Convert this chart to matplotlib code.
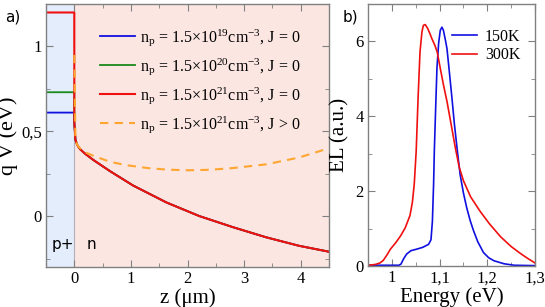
import matplotlib
matplotlib.use("Agg")
import matplotlib.pyplot as plt
from matplotlib.ticker import MultipleLocator, FuncFormatter

plt.rcParams['font.family'] = ['Liberation Serif', 'DejaVu Serif']
plt.rcParams['mathtext.fontset'] = 'custom'
plt.rcParams['mathtext.rm'] = 'Liberation Serif'
plt.rcParams['mathtext.it'] = 'Liberation Serif:italic'
plt.rcParams['mathtext.default'] = 'regular'

# ---- Panel a) data ----
z_p = [-0.5, 0.0]
V_p_19 = [0.61, 0.61]
V_p_20 = [0.73, 0.73]
V_p_21 = [1.2, 1.2]
z_n = [0.0, 0.02, 0.05, 0.1, 0.2, 0.34, 0.63, 1.04, 1.63, 2.21, 2.8, 3.39, 3.97, 4.5]
V_n_J0 = [0.55, 0.45, 0.42, 0.395, 0.365, 0.33, 0.265, 0.18, 0.08, 0.0, -0.065, -0.125, -0.175, -0.21]
z_J = [0.0, 0.02, 0.05, 0.1, 0.2, 0.34, 0.63, 0.92, 1.3, 1.63, 2.0, 2.4, 2.8, 3.39, 3.97, 4.5]
V_J = [0.95, 0.45, 0.42, 0.40, 0.375, 0.355, 0.32, 0.30, 0.283, 0.274, 0.27, 0.273, 0.283, 0.305, 0.345, 0.40]

labels_a = [r'n$_\mathrm{p}$ = 1.5×10$^{19}$cm$^{-3}$, J = 0',
            r'n$_\mathrm{p}$ = 1.5×10$^{20}$cm$^{-3}$, J = 0',
            r'n$_\mathrm{p}$ = 1.5×10$^{21}$cm$^{-3}$, J = 0',
            r'n$_\mathrm{p}$ = 1.5×10$^{21}$cm$^{-3}$, J > 0']

# ---- Panel b) data ----
E_150 = [0.95, 1.0, 1.015, 1.019, 1.025, 1.031, 1.04, 1.052, 1.065, 1.077, 1.082, 1.085, 1.0875,
         1.089, 1.092, 1.0945, 1.098, 1.1015, 1.105, 1.108, 1.112, 1.1155, 1.12, 1.126, 1.131, 1.1365,
         1.143, 1.15, 1.157, 1.164, 1.171, 1.18, 1.192, 1.203, 1.214, 1.235, 1.256, 1.3]
EL_150 = [0.02, 0.02, 0.02, 0.05, 0.2, 0.32, 0.41, 0.45, 0.5, 0.58, 0.7, 1.2, 2.2,
          3.07, 4.3, 5.28, 5.95, 6.3, 6.38, 6.3, 6.05, 5.81, 5.25, 4.48, 3.8, 3.16,
          2.45, 1.95, 1.55, 1.22, 0.95, 0.65, 0.36, 0.22, 0.14, 0.06, 0.02, 0.01]
E_300 = [0.95, 0.965, 0.975, 0.982, 0.99, 0.997, 1.008, 1.018, 1.028, 1.038, 1.043, 1.047, 1.051,
         1.055, 1.059, 1.063, 1.066, 1.07, 1.075, 1.08, 1.084, 1.09, 1.095, 1.1015, 1.108, 1.1155,
         1.124, 1.133, 1.141, 1.15, 1.165, 1.185, 1.205, 1.228, 1.25, 1.27, 1.285, 1.3]
EL_300 = [0.02, 0.04, 0.08, 0.15, 0.3, 0.45, 0.62, 0.8, 1.02, 1.35, 1.7, 2.2, 3.07,
          4.5, 5.72, 6.25, 6.43, 6.45, 6.35, 6.2, 6.07, 5.9, 5.72, 5.28, 4.85, 4.4,
          3.8, 3.16, 2.65, 2.28, 1.85, 1.46, 1.12, 0.78, 0.52, 0.33, 0.2, 0.08]
labels_b = ['150K', '300K']

fig = plt.figure(figsize=(5.45, 3.07), dpi=100)
axa = fig.add_axes([46/545, 1-267/307, (329-46)/545, 263/307])
axb = fig.add_axes([368/545, 1-266/307, (535-368)/545, 262/307])

spine_col = '#808080'

# panel a
axa.axvspan(-0.5, 0.0, color='#e3edfb', zorder=0)
axa.axvspan(0.0, 4.5, color='#fbe6e2', zorder=0)
axa.axvline(0.0, color='#b0b0c0', lw=0.8, zorder=0.5)

axa.plot(z_p + z_n, V_p_19 + V_n_J0, color='#1010e0', lw=1.3, label=labels_a[0])
axa.plot(z_p + z_n, V_p_20 + V_n_J0, color='#1a8a1a', lw=1.3, label=labels_a[1])
axa.plot(z_p + z_n, V_p_21 + V_n_J0, color='#f01010', lw=1.5, label=labels_a[2])
axa.plot(z_J, V_J, color='#ffa530', lw=1.5, ls=(0, (4, 3)), label=labels_a[3])

axa.set_xlim(-0.5, 4.5)
axa.set_ylim(-0.3, 1.25)
axa.xaxis.set_major_locator(MultipleLocator(1))
axa.xaxis.set_minor_locator(MultipleLocator(0.5))
axa.yaxis.set_major_locator(MultipleLocator(0.5))
axa.yaxis.set_minor_locator(MultipleLocator(0.25))

def comma(x, pos):
    return ('%g' % round(x, 2)).replace('.', ',')
axa.yaxis.set_major_formatter(FuncFormatter(comma))
axa.set_xlabel('z (μm)', fontsize=15, labelpad=1)
axa.set_ylabel('q V (eV)', fontsize=16, labelpad=2)
leg = axa.legend(loc='upper right', bbox_to_anchor=(0.94, 0.955), fontsize=11.5, frameon=False,
                 handlelength=2.2, handletextpad=0.3, labelspacing=0.5, borderaxespad=0.3)
axa.text(0.02, 0.07, 'p+', transform=axa.transAxes, fontsize=11, family='DejaVu Sans')
axa.text(0.145, 0.07, 'n', transform=axa.transAxes, fontsize=11, family='DejaVu Sans')

# panel b
axb.plot(E_150, EL_150, color='#1010e0', lw=1.2, label=labels_b[0])
axb.plot(E_300, EL_300, color='#f01010', lw=1.2, label=labels_b[1])
axb.set_xlim(0.95, 1.3)
axb.set_ylim(0, 7)
axb.xaxis.set_major_locator(MultipleLocator(0.1))
axb.xaxis.set_minor_locator(MultipleLocator(0.05))
axb.yaxis.set_major_locator(MultipleLocator(2))
axb.yaxis.set_minor_locator(MultipleLocator(1))
axb.xaxis.set_major_formatter(FuncFormatter(comma))
axb.set_xlabel('Energy (eV)', fontsize=15, labelpad=1)
axb.set_ylabel('EL (a.u.)', fontsize=15, labelpad=4)
axb.legend(loc='upper right', bbox_to_anchor=(1.0, 0.96), fontsize=11.5, frameon=False,
           handlelength=1.6, handletextpad=0.5, labelspacing=0.15)

for ax in (axa, axb):
    for s in ax.spines.values():
        s.set_color(spine_col)
        s.set_linewidth(1.0)
    ax.tick_params(which='both', direction='in', top=True, right=True, color=spine_col,
                   labelsize=12, pad=3)
    ax.tick_params(which='major', length=5)
    ax.tick_params(which='minor', length=3)

fig.text(5/545, 1-22/307, 'a)', fontsize=11, family='DejaVu Sans')
fig.text(343/545, 1-22/307, 'b)', fontsize=11, family='DejaVu Sans')

fig.savefig('out.png', dpi=100)
